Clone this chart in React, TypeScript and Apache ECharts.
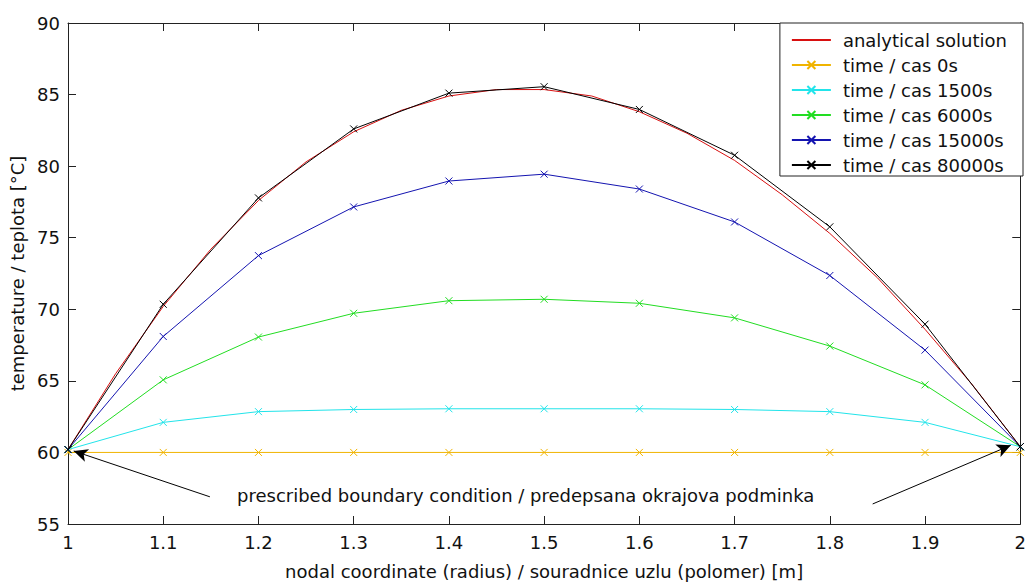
import React, { useEffect, useRef } from "react";
import * as echarts from "echarts";

const xNodes = [1, 1.1, 1.2, 1.3, 1.4, 1.5, 1.6, 1.7, 1.8, 1.9, 2];
const t0 = [60, 60, 60, 60, 60, 60, 60, 60, 60, 60, 60];
const t1500 = [60.2, 62.1, 62.85, 63.0, 63.05, 63.05, 63.05, 63.0, 62.85, 62.1, 60.4];
const t6000 = [60.2, 65.07, 68.06, 69.72, 70.6, 70.7, 70.42, 69.4, 67.43, 64.72, 60.4];
const t15000 = [60.2, 68.1, 73.75, 77.15, 78.96, 79.44, 78.4, 76.1, 72.36, 67.15, 60.4];
const t80000 = [60.2, 70.35, 77.78, 82.6, 85.1, 85.55, 83.96, 80.76, 75.76, 68.96, 60.4];

const xFine = [1, 1.05, 1.1, 1.15, 1.2, 1.25, 1.3, 1.35, 1.4, 1.45, 1.5, 1.55, 1.6, 1.65, 1.7, 1.75, 1.8, 1.85, 1.9, 1.95, 2];
const analytical = [60.2, 65.5, 70.2, 74.2, 77.6, 80.3, 82.4, 83.9, 84.9, 85.35, 85.35, 84.9, 83.8, 82.3, 80.4, 78.0, 75.3, 72.2, 68.6, 64.7, 60.4];

const names = [
  "analytical solution",
  "time / cas 0s",
  "time / cas 1500s",
  "time / cas 6000s",
  "time / cas 15000s",
  "time / cas 80000s",
];
const colors = ["#d81010", "#f0b400", "#22e4ea", "#22dd22", "#1414b0", "#000000"];
const annotation = "prescribed boundary condition / predepsana okrajova podminka";
const arrowLeft = [[1.149, 56.9], [1.006, 60.1]];
const arrowRight = [[1.845, 56.4], [1.99, 60.5]];

const FONT = "DejaVu Sans";
const xMark = "path://M0,0L10,10M10,0L0,10";

function pair(xs: number[], ys: number[]) {
  return xs.map((x, i) => [x, ys[i]]);
}

export default function App() {
  const ref = useRef<HTMLDivElement>(null);
  useEffect(() => {
    if (!ref.current) return;
    const chart = echarts.init(ref.current, null, { renderer: "svg" });
    const axisLine = { show: true, lineStyle: { color: "#222", width: 1 } };
    const tick = { show: true, inside: true, length: 8, lineStyle: { color: "#222" } };
    const nodeSeries = [t0, t1500, t6000, t15000, t80000].map((ys, k) => ({
      type: "line",
      name: names[k + 1],
      data: pair(xNodes, ys),
      color: colors[k + 1],
      symbol: xMark,
      symbolSize: 7,
      showSymbol: true,
      lineStyle: { width: 1, color: colors[k + 1] },
      itemStyle: { color: colors[k + 1], borderColor: colors[k + 1], borderWidth: 1 },
      emphasis: { disabled: true },
      z: 3 + k,
      ...(k === 0
        ? {
            markLine: {
              silent: true,
              symbol: ["none", "arrow"],
              symbolSize: [10, 14],
              label: { show: false },
              lineStyle: { color: "#000", width: 1, type: "solid" },
              data: [
                [{ coord: arrowLeft[0] }, { coord: arrowLeft[1] }],
                [{ coord: arrowRight[0] }, { coord: arrowRight[1] }],
              ],
            },
          }
        : {}),
    }));
    chart.setOption({
      animation: false,
      backgroundColor: "#fff",
      textStyle: { fontFamily: FONT },
      grid: { left: 68, right: 6, top: 23, bottom: 58, containLabel: false },
      legend: {
        orient: "vertical",
        right: 6,
        top: 23,
        backgroundColor: "#fff",
        borderColor: "#222",
        borderWidth: 1,
        borderRadius: 0,
        padding: [8, 16, 2, 11],
        itemGap: 7,
        itemWidth: 39,
        itemHeight: 10,
        textStyle: { fontFamily: FONT, fontSize: 18, color: "#111", padding: [0, 0, 0, 7] },
        data: [
          { name: names[0], itemStyle: { opacity: 0 } },
          ...names.slice(1),
        ],
        selectedMode: false,
      },
      xAxis: [
        {
          type: "value",
          min: 1,
          max: 2,
          interval: 0.1,
          axisLine,
          axisTick: tick,
          splitLine: { show: false },
          axisLabel: {
            color: "#111",
            fontSize: 18,
            fontFamily: FONT,
            margin: 9,
            formatter: (v: number) => String(+v.toFixed(1)),
          },
          name: "nodal coordinate (radius) / souradnice uzlu (polomer) [m]",
          nameLocation: "middle",
          nameGap: 38,
          nameTextStyle: { fontSize: 18, color: "#111", fontFamily: FONT },
        },
        {
          type: "value",
          position: "top",
          min: 1,
          max: 2,
          interval: 0.1,
          axisLine,
          axisTick: tick,
          axisLabel: { show: false },
          splitLine: { show: false },
        },
      ],
      yAxis: [
        {
          type: "value",
          min: 55,
          max: 90,
          interval: 5,
          axisLine,
          axisTick: tick,
          splitLine: { show: false },
          axisLabel: { color: "#111", fontSize: 18, fontFamily: FONT, margin: 8 },
          name: "temperature / teplota [°C]",
          nameLocation: "middle",
          nameGap: 41,
          nameTextStyle: { fontSize: 18, color: "#111", fontFamily: FONT },
        },
        {
          type: "value",
          position: "right",
          min: 55,
          max: 90,
          interval: 5,
          axisLine,
          axisTick: tick,
          axisLabel: { show: false },
          splitLine: { show: false },
        },
      ],
      graphic: [
        {
          type: "text",
          left: 528 - 291,
          top: 486,
          style: { text: annotation, font: `18px "${FONT}"`, fill: "#111" },
          z: 20,
        },
      ],
      series: [
        {
          type: "line",
          name: names[0],
          data: pair(xFine, analytical),
          color: colors[0],
          symbol: "none",
          showSymbol: false,
          lineStyle: { width: 1, color: colors[0] },
          emphasis: { disabled: true },
          z: 2,
        },
        ...nodeSeries,
      ],
    });
    return () => chart.dispose();
  }, []);
  return (
    <div
      ref={ref}
      style={{ position: "absolute", left: 0, top: 0, width: 1029, height: 585, background: "#fff" }}
    />
  );
}
